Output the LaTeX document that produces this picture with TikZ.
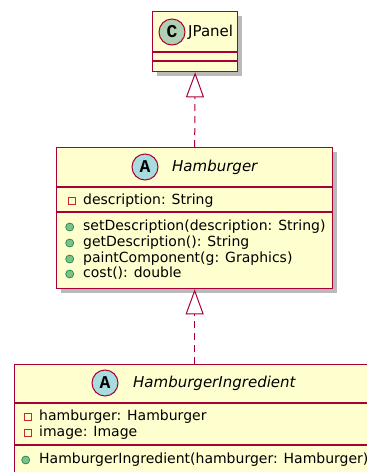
\documentclass[tikz,border=0pt]{standalone}
\usepackage{fontspec}
\setmainfont{DejaVu Sans}
\newfontfamily\spotfont{Liberation Mono}
\usetikzlibrary{arrows.meta,shadows}

\definecolor{classbg}{HTML}{FEFECE}
\definecolor{classborder}{HTML}{A80036}
\definecolor{spotC}{HTML}{ADD1B2}
\definecolor{spotA}{HTML}{A9DCDF}
\definecolor{privred}{HTML}{C82930}
\definecolor{pubgreen}{HTML}{84BE84}
\definecolor{pubedge}{HTML}{038048}

\begin{document}
\begin{tikzpicture}[x=1pt,y=-1pt]
    \tikzset{classbox/.style={draw=classborder, fill=classbg, line width=1.3pt, anchor=north west, inner sep=0pt,
        drop shadow={shadow xshift=4pt, shadow yshift=-4pt, fill=black!60, opacity=.45}}}
    \tikzset{sepline/.style={draw=classborder, line width=1.3pt}}
    \tikzset{spot/.style={circle, draw=classborder, line width=1pt, minimum size=26pt, inner sep=0pt,
        font=\spotfont\bfseries\fontsize{18}{18}\selectfont}}
    \tikzset{classname/.style={anchor=west, inner sep=0pt, font=\fontsize{15}{18}\selectfont}}
    \tikzset{member/.style={anchor=west, inner sep=0pt, text height=10pt, text depth=3pt,
        font=\fontsize{14}{16}\selectfont}}
    \tikzset{privattr/.style={member, label={[draw=privred, line width=0.9pt, minimum size=7pt, inner sep=0pt, label distance=7.5pt]left:{}}}}
    \tikzset{pubop/.style={member, label={[circle, fill=pubgreen, draw=pubedge, line width=0.6pt, minimum size=8pt, inner sep=0pt, label distance=9pt]left:{}}}}
    \tikzset{realize/.style={draw=classborder, line width=1pt, dash pattern=on 7pt off 5pt,
        -{Triangle[open, length=25pt, width=18pt]}}}
    \useasboundingbox (0,0) rectangle (367,472);
    \clip (0,0) rectangle (367,472);
    \node[classbox, minimum width=85pt, minimum height=60pt] (jpanel) at (152,11) {};
    \draw[sepline] (152,52) -- (237,52);
    \draw[sepline] (152,61) -- (237,61);
    \node[spot, fill=spotC] (jpanelspot) at (172,32) {C};
    \node[classname] (jpaneltitle) at (188,32) {JPanel};
    \node[classbox, minimum width=276pt, minimum height=141pt] (hamburger) at (56,147) {};
    \draw[sepline] (56,187) -- (332,187);
    \draw[sepline] (56,212) -- (332,212);
    \node[spot, fill=spotA] (hamburgerspot) at (145,167) {A};
    \node[classname, font=\fontsize{15}{18}\selectfont\itshape] (hamburgertitle) at (172,167) {Hamburger};
    \node[privattr] (hbdescription) at (83,201) {description: String};
    \node[pubop] (hbsetdescription) at (83,227) {setDescription(description: String)};
    \node[pubop] (hbgetdescription) at (83,243) {getDescription(): String};
    \node[pubop] (hbpaint) at (83,259) {paintComponent(g: Graphics)};
    \node[pubop] (hbcost) at (83,274) {cost(): double};
    \node[classbox, minimum width=360pt, minimum height=120pt] (ingredient) at (14,364) {};
    \draw[sepline] (14,403) -- (374,403);
    \draw[sepline] (14,445) -- (374,445);
    \node[spot, fill=spotA] (ingredientspot) at (105,383) {A};
    \node[classname, font=\fontsize{15}{18}\selectfont\itshape] (ingredienttitle) at (133,383) {HamburgerIngredient};
    \node[privattr] (inghamburger) at (39,417) {hamburger: Hamburger};
    \node[privattr] (ingimage) at (39,433) {image: Image};
    \node[pubop] (ingconstructor) at (39,460) {HamburgerIngredient(hamburger: Hamburger)};
    \draw[realize] (hamburger.north) -- (jpanel.south);
    \draw[realize] (ingredient.north) -- (hamburger.south);
\end{tikzpicture}
\end{document}
